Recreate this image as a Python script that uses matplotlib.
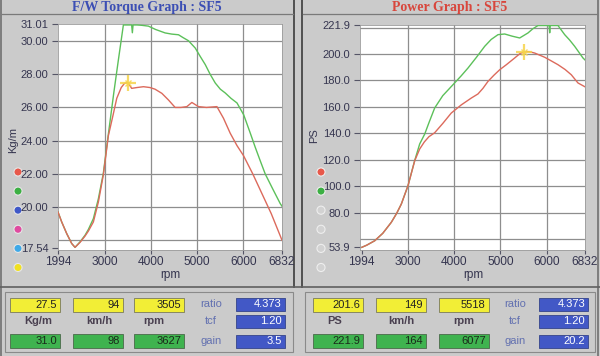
import numpy as np
import matplotlib.pyplot as plt
from matplotlib.patches import Rectangle

# torque graph (Kg/m) - current run (red) and max run (green)
trq_rpm_red = [1994, 2074, 2182, 2290, 2362, 2470, 2578, 2650, 2758, 2866, 2974, 3082,
               3180, 3263, 3360, 3430, 3505, 3585, 3700, 3840, 3980, 4090, 4237, 4380,
               4524, 4650, 4777, 4885, 5028, 5200, 5426, 5568, 5713, 5860, 6000, 6200,
               6400, 6600, 6832]
trq_red = [19.7, 19.1, 18.4, 17.8, 17.57, 17.87, 18.25, 18.55, 19.1, 20.3, 21.95, 24.3,
           25.5, 26.55, 27.2, 27.45, 27.5, 27.15, 27.2, 27.25, 27.2, 27.1, 26.85, 26.45,
           26.0, 26.0, 26.05, 26.3, 26.05, 26.0, 26.05, 25.35, 24.45, 23.7, 23.1, 22.0,
           20.8, 19.6, 18.0]
trq_rpm_green = [1994, 2074, 2182, 2290, 2362, 2470, 2578, 2650, 2758, 2866, 2974, 3082,
                 3200, 3300, 3406, 3500, 3585, 3600, 3615, 3700, 3800, 3947, 4100, 4308,
                 4450, 4596, 4700, 4812, 4958, 5060, 5175, 5280, 5391, 5500, 5607, 5730,
                 5860, 6004, 6146, 6254, 6360, 6470, 6630, 6795, 6832]
trq_green = [19.7, 19.1, 18.4, 17.8, 17.57, 17.9, 18.3, 18.65, 19.3, 20.5, 22.05, 24.4,
             26.9, 28.9, 30.97, 30.97, 30.97, 30.5, 30.97, 30.97, 30.95, 30.9, 30.7, 30.49,
             30.42, 30.38, 30.2, 30.02, 29.58, 29.1, 28.58, 28.0, 27.47, 27.1, 26.87, 26.55,
             26.27, 25.56, 24.46, 23.6, 22.8, 21.99, 21.1, 20.2, 20.05]

# power graph (PS)
pwr_rpm_red = [1994, 2100, 2276, 2450, 2635, 2750, 2852, 2997, 3142, 3250, 3350, 3450,
               3575, 3750, 3935, 4150, 4368, 4513, 4620, 4730, 4860, 4984, 5128, 5309,
               5430, 5518, 5620, 5743, 5960, 6100, 6247, 6400, 6535, 6680, 6832]
pwr_red = [53.9, 55.5, 58.9, 64.5, 72.8, 79.5, 86.6, 100.5, 119.3, 128.2, 133.5, 137.5,
           140.5, 147.5, 155.4, 161.5, 166.7, 169.8, 174.0, 179.3, 184.0, 188.1, 191.9, 197.0,
           200.5, 201.6, 201.8, 200.7, 197.5, 194.8, 191.9, 188.3, 184.3, 178.1, 175.2]
pwr_rpm_green = [1994, 2100, 2276, 2450, 2635, 2750, 2852, 2997, 3142, 3250, 3359, 3450,
                 3575, 3750, 3972, 4150, 4297, 4480, 4659, 4800, 4947, 5092, 5250, 5417,
                 5597, 5700, 5813, 5950, 6055, 6067, 6080, 6247, 6392, 6500, 6608, 6788, 6832]
pwr_green = [53.9, 55.5, 58.9, 64.5, 72.8, 79.5, 86.6, 100.5, 119.5, 132.0, 139.5, 148.0,
             159.2, 168.5, 176.8, 183.5, 189.4, 197.5, 205.8, 211.0, 214.6, 215.1, 213.5, 212.1,
             215.9, 219.0, 221.5, 221.5, 221.5, 216.0, 221.5, 221.5, 214.6, 210.5, 205.8, 197.0, 195.5]

rpm_ticks = [1994, 3000, 4000, 5000, 6000, 6832]
trq_yticks = [17.54, 20.00, 22.00, 24.00, 26.00, 28.00, 30.00, 31.01]
pwr_yticks = [53.9, 80.0, 100.0, 120.0, 140.0, 160.0, 180.0, 200.0, 221.9]
trq_grid = [18, 20, 22, 24, 26, 28, 30]
pwr_grid = [60, 80, 100, 120, 140, 160, 180, 200, 220]
rpm_grid = [3000, 4000, 5000, 6000]

# readout boxes
trq_cursor = ['27.5', '94', '3505']
trq_max = ['31.0', '98', '3627']
trq_units = ['Kg/m', 'km/h', 'rpm']
pwr_cursor = ['201.6', '149', '5518']
pwr_max = ['221.9', '164', '6077']
pwr_units = ['PS', 'km/h', 'rpm']
factor_names = ['ratio', 'tcf', 'gain']
trq_factors = ['4.373', '1.20', '3.5']
pwr_factors = ['4.373', '1.20', '20.2']

NARROW = ['Liberation Sans Narrow', 'Liberation Sans', 'DejaVu Sans']
SERIF = ['Liberation Serif', 'DejaVu Serif']
RED = '#dc6a5c'
GREEN = '#5cc05a'
BG = '#cbcbcb'
TXT = '#35354f'

fig = plt.figure(figsize=(6, 3.56), dpi=100, facecolor=BG)

# pixel overlay for frame, titles, legend dots and readouts
bg = fig.add_axes([0, 0, 1, 1])
bg.set_xlim(0, 600)
bg.set_ylim(356, 0)
bg.axis('off')

# frame lines
bg.plot([294, 294], [0, 287], color='#505050', lw=1.4)
bg.plot([302, 302], [0, 287], color='#505050', lw=1.4)
bg.plot([1, 1], [0, 356], color='#707070', lw=1.2)
bg.plot([598, 598], [0, 356], color='#707070', lw=1.2)
bg.plot([2, 293], [14, 14], color='#7a7a7a', lw=0.9)
bg.plot([303, 597], [14, 14], color='#7a7a7a', lw=0.9)
bg.plot([0, 600], [287, 287], color='#606060', lw=1.2)
bg.add_patch(Rectangle((5, 292), 288, 60, fill=False, ec='#8a8a8a', lw=0.8))
bg.add_patch(Rectangle((305, 292), 290, 60, fill=False, ec='#8a8a8a', lw=0.8))

bg.text(147, 7, 'F/W Torque Graph : SF5', family=SERIF, weight='bold', fontsize=10,
        color='#3c4fb4', ha='center', va='center')
bg.text(450, 7, 'Power Graph : SF5', family=SERIF, weight='bold', fontsize=10,
        color='#d8463c', ha='center', va='center')

# legend dots
left_dots = ['#e8584a', '#3cb043', '#3f58c8', '#e04aa0', '#3fa9e8', '#f0e020']
right_dots = ['#e8584a', '#3cb043', '#d2d2d2', '#d2d2d2', '#d2d2d2', '#d2d2d2']
dot_y = [172 + 19.1 * i for i in range(6)]
bg.scatter([18] * 6, dot_y, s=34, c=left_dots, edgecolors='#e6e6e6', linewidths=0.8, zorder=3)
bg.scatter([321] * 6, dot_y, s=34, c=right_dots, edgecolors='#eeeeee', linewidths=0.8, zorder=3)

bg.text(13, 140, 'Kg/m', rotation=90, family=NARROW, fontsize=8, color=TXT, ha='center', va='center')
bg.text(314, 136, 'PS', rotation=90, family=NARROW, fontsize=8, color=TXT, ha='center', va='center')
bg.text(170, 275, 'rpm', family=NARROW, fontsize=8.5, color=TXT, ha='center', va='center')
bg.text(473, 275, 'rpm', family=NARROW, fontsize=8.5, color=TXT, ha='center', va='center')


def readout(x0, box_w, label_x, cursor, maxes, units, fx_name, fx_box, factors):
    for i in range(3):
        x = x0[i]
        bg.add_patch(Rectangle((x, 297.5), box_w, 14, fc='#f2ee36', ec='#7a7a5a', lw=0.6))
        bg.text(x + box_w - 3, 304.5, cursor[i], family=NARROW, fontsize=8, color='#222222',
                ha='right', va='center')
        bg.add_patch(Rectangle((x, 333.5), box_w, 14, fc='#3fb34f', ec='#4a6a4a', lw=0.6))
        bg.text(x + box_w - 3, 340.5, maxes[i], family=NARROW, fontsize=8, color='#1a2a1a',
                ha='right', va='center')
        bg.text(label_x[i], 321.5, units[i], family=NARROW, fontsize=8, weight='bold',
                color='#4a4050', ha='center', va='center')
    for i, yc in enumerate([304, 321.5, 341]):
        bg.text(fx_name, yc, factor_names[i], family=NARROW, fontsize=8, color='#6270b0',
                ha='center', va='center')
        bg.add_patch(Rectangle((fx_box, yc - 6.5), 49, 13, fc='#4258c6', ec='#34448a', lw=0.6))
        bg.text(fx_box + 46, yc, factors[i], family=NARROW, fontsize=8, color='white',
                ha='right', va='center')


readout([10, 72.5, 134], 50, [38.5, 99, 154], trq_cursor, trq_max, trq_units, 211, 236, trq_factors)
readout([313, 376, 438.5], 50, [335, 401.5, 463.5], pwr_cursor, pwr_max, pwr_units, 515, 539, pwr_factors)


def make_plot(l, r, t, b):
    ax = fig.add_axes([l / 600, 1 - b / 356, (r - l) / 600, (b - t) / 356])
    ax.set_facecolor('white')
    for s in ax.spines.values():
        s.set_color('#9a9a9a')
        s.set_linewidth(0.6)
    ax.tick_params(axis='y', direction='out', length=4, width=0.8, color='#555566', pad=3)
    ax.tick_params(axis='x', direction='out', length=3, width=0.8, color='#555566', pad=1)
    return ax


def style(ax, yticks, ylabels, hgrid):
    for g in hgrid:
        ax.axhline(g, color='#8e8e8e', lw=0.9, zorder=1)
    for g in rpm_grid:
        ax.axvline(g, color='#8e8e8e', lw=0.9, zorder=1)
    ax.set_xticks(rpm_ticks, labels=[str(v) for v in rpm_ticks])
    ax.set_yticks(yticks, labels=ylabels)
    for lab in ax.get_xticklabels():
        lab.set_family(NARROW)
        lab.set_fontsize(8.6)
        lab.set_color(TXT)
    for lab in ax.get_yticklabels():
        lab.set_family(NARROW)
        lab.set_fontsize(8)
        lab.set_color(TXT)


# torque plot
ax1 = make_plot(58, 282, 24.3, 250)
ax1.set_xlim(1994, 6832)
ax1.set_ylim(17.41, 31.01)
style(ax1, trq_yticks, [f'{v:.2f}' for v in trq_yticks], trq_grid)
ax1.plot(trq_rpm_green, trq_green, color=GREEN, lw=1.0, zorder=3)
ax1.plot(trq_rpm_red, trq_red, color=RED, lw=1.0, zorder=4)
ax1.plot(3505, 27.5, marker='+', ms=11, mew=1.6, color='#f6d44a', alpha=0.85, zorder=5)
ax1.plot(3505, 27.5, marker='x', ms=5, mew=1.0, color='#f6d44a', alpha=0.85, zorder=5)

# power plot
ax2 = make_plot(360, 585, 25, 250)
ax2.set_xlim(1957, 6832)
ax2.set_ylim(51.9, 221.9)
style(ax2, pwr_yticks, [f'{v:.1f}' for v in pwr_yticks], pwr_grid)
ax2.plot(pwr_rpm_green, pwr_green, color=GREEN, lw=1.0, zorder=3)
ax2.plot(pwr_rpm_red, pwr_red, color=RED, lw=1.0, zorder=4)
ax2.plot(5518, 201.6, marker='+', ms=11, mew=1.6, color='#f6d44a', alpha=0.85, zorder=5)
ax2.plot(5518, 201.6, marker='x', ms=5, mew=1.0, color='#f6d44a', alpha=0.85, zorder=5)

fig.savefig('out.png', dpi=100, facecolor=BG)
